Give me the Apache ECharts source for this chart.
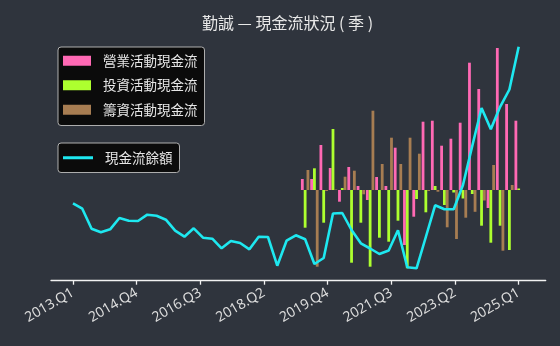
<!DOCTYPE html>
<html style="height: 100%">

<head>
    <meta charset="utf-8">
    <script src="https://cdn.jsdelivr.net/npm/echarts@6/dist/echarts.min.js"></script>
</head>

<body style="height: 100%; margin: 0; background: #2f343d">
    <div id="main" style="width:560px;height:346px;"></div>
    <script type="text/javascript">
    // 季度標籤
    var quarters = [
        '2013.Q1', '2013.Q2', '2013.Q3', '2013.Q4', '2014.Q1', '2014.Q2', '2014.Q3', '2014.Q4',
        '2015.Q1', '2015.Q2', '2015.Q3', '2015.Q4', '2016.Q1', '2016.Q2', '2016.Q3', '2016.Q4',
        '2017.Q1', '2017.Q2', '2017.Q3', '2017.Q4', '2018.Q1', '2018.Q2', '2018.Q3', '2018.Q4',
        '2019.Q1', '2019.Q2', '2019.Q3', '2019.Q4', '2020.Q1', '2020.Q2', '2020.Q3', '2020.Q4',
        '2021.Q1', '2021.Q2', '2021.Q3', '2021.Q4', '2022.Q1', '2022.Q2', '2022.Q3', '2022.Q4',
        '2023.Q1', '2023.Q2', '2023.Q3', '2023.Q4', '2024.Q1', '2024.Q2', '2024.Q3', '2024.Q4',
        '2025.Q1'
    ];
    // 現金流從 2019.Q2 開始有資料
    var barStart = 25;
    var operating = [110, 110, 450, 220, -117, 230, 40, -100, 130, 40, 423, -550,
        -267, 683, 693, 443, 513, 673, 1273, 1010, -180, 1420, 860, 693];
    var investing = [-377, 217, -327, 610, 20, -727, -327, -767, -477, -517, -307, -783,
        -90, -223, 40, -150, -25, -85, -40, -357, -527, -357, -600, 15];
    var financing = [200, -767, -10, 5, 133, 193, -43, 793, 260, 523, 260, 523,
        363, -10, -17, -373, -490, -277, -218, -105, 250, -607, 50, 0];
    var balance = [3134, 3026, 2626, 2554, 2614, 2840, 2786, 2780, 2906, 2886, 2806, 2586,
        2466, 2634, 2446, 2426, 2234, 2380, 2340, 2214, 2466, 2460, 1886, 2386,
        2494, 2414, 1920, 2040, 2930, 2940, 2600, 2334, 2230, 2120, 2190, 2594,
        1854, 1834, 2460, 3094, 3014, 3016, 3500, 4280, 5040, 4614, 5064, 5410, 6266];

    var last = quarters.length - 1;
    var tickPos = [];
    for (var k = 0; k < 8; k++) tickPos.push(k * last / 7);

    function pairs(arr, start) {
        return arr.map(function(v, i) { return [start + i, v]; });
    }

    var cjk = '"Noto Sans CJK TC", "Noto Sans", sans-serif';
    var legendBox = {
        orient: 'vertical',
        left: 58,
        backgroundColor: '#0b0b0b',
        borderColor: '#b0b0b0',
        borderWidth: 1,
        borderRadius: 3,
        textStyle: { color: '#e6e6e6', fontSize: 13.5, fontFamily: cjk, padding: [0, 0, 0, 7] }
    };
    var myChart = echarts.init(document.getElementById('main'));
    var option = {
        backgroundColor: '#2f343d',
        animation: false,
        title: {
            text: '勤誠 — 現金流狀況 ( 季 )',
            left: 202,
            top: 15,
            padding: 0,
            textStyle: { color: '#e8e8e8', fontSize: 16, fontWeight: 'normal', fontFamily: cjk }
        },
        legend: [Object.assign({}, legendBox, {
            top: 47,
            data: ['營業活動現金流', '投資活動現金流', '籌資活動現金流'],
            icon: 'rect',
            itemWidth: 28,
            itemHeight: 10,
            itemGap: 11,
            padding: [7, 7, 9, 5]
        }), Object.assign({}, legendBox, {
            top: 143,
            data: ['現金流餘額'],
            icon: 'rect',
            itemWidth: 30,
            itemHeight: 3,
            padding: [8, 7, 8, 5]
        })],
        grid: { left: 51, right: 14.3, top: 37, bottom: 65.3 },
        xAxis: {
            type: 'value',
            min: -2.37,
            max: 50.91,
            splitLine: { show: false },
            axisLine: { show: true, onZero: false, lineStyle: { color: '#f2f2f2', width: 1.3 } },
            axisTick: { show: true, length: 4, customValues: tickPos, lineStyle: { color: '#f2f2f2', width: 1.3 } },
            axisLabel: {
                customValues: tickPos,
                rotate: 30,
                margin: 11,
                color: '#dcdcdc',
                fontSize: 14,
                fontFamily: '"Noto Sans", sans-serif',
                formatter: function(v) { return quarters[Math.round(v)]; }
            }
        },
        yAxis: [
            { type: 'value', show: false, min: -907, max: 1530 },
            { type: 'value', show: false, min: 1586, max: 6460 }
        ],
        series: [{
            name: '營業活動現金流',
            type: 'bar',
            barWidth: 2.8,
            barGap: '0%',
            itemStyle: { color: '#ff69b4' },
            data: pairs(operating, barStart)
        }, {
            name: '投資活動現金流',
            type: 'bar',
            barWidth: 2.8,
            barGap: '0%',
            itemStyle: { color: '#adff2f' },
            data: pairs(investing, barStart)
        }, {
            name: '籌資活動現金流',
            type: 'bar',
            barWidth: 2.8,
            barGap: '0%',
            itemStyle: { color: '#a77d52' },
            data: pairs(financing, barStart)
        }, {
            name: '現金流餘額',
            type: 'line',
            yAxisIndex: 1,
            symbol: 'none',
            z: 5,
            lineStyle: { color: '#1ee8f0', width: 2.6 },
            itemStyle: { color: '#1ee8f0' },
            data: pairs(balance, 0)
        }]
    };
    myChart.setOption(option);
    </script>
</body>

</html>
